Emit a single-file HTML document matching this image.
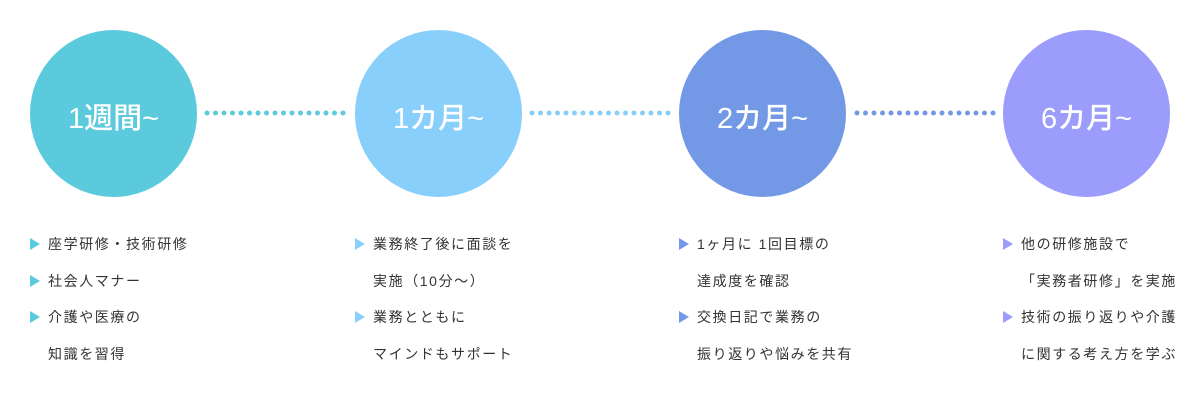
<!DOCTYPE html>
<html><head><meta charset="utf-8"><style>
body{margin:0;width:1200px;height:400px;background:#fff;overflow:hidden;position:relative;font-family:"Liberation Sans","Noto Sans CJK JP",sans-serif;}
.c{position:absolute;top:30px;width:167px;height:167px;border-radius:50%;color:#fff;font-size:29px;line-height:167px;text-align:center;font-weight:500;}
.c span{position:relative;top:6px}
.col{position:absolute;top:230px;font-size:14px;color:#333;}
.col div{height:36.5px;line-height:28px;padding-left:18px;position:relative;letter-spacing:1.6px;white-space:nowrap}
.col div.b:before{content:"";position:absolute;left:0;top:8px;border-left:10px solid var(--k);border-top:6px solid transparent;border-bottom:6px solid transparent;}
</style></head><body>
<svg width="1200" height="400" style="position:absolute;left:0;top:0"></svg>
<script>
var s=document.querySelector('svg');var cols=['#5bcadd','#88d0fb','#7399e6'];
for(var k=0;k<3;k++){for(var i=0;i<17;i++){var c=document.createElementNS('http://www.w3.org/2000/svg','circle');c.setAttribute('cx',207+k*325+i*8.5);c.setAttribute('cy',113);c.setAttribute('r',2.5);c.setAttribute('fill',cols[k]);s.appendChild(c);}}
</script>
<div class="c" style="left:30px;background:#5bcadd"><span>1週間~</span></div>
<div class="c" style="left:355px;background:#88d0fb"><span>1カ月~</span></div>
<div class="c" style="left:679px;background:#7399e6"><span>2カ月~</span></div>
<div class="c" style="left:1003px;background:#9b9cfb"><span>6カ月~</span></div>
<div class="col" style="left:30px;--k:#5bcadd"><div class="b">座学研修・技術研修</div><div class="b">社会人マナー</div><div class="b">介護や医療の</div><div>知識を習得</div></div>
<div class="col" style="left:355px;--k:#88d0fb"><div class="b">業務終了後に面談を</div><div>実施（10分～）</div><div class="b">業務とともに</div><div>マインドもサポート</div></div>
<div class="col" style="left:679px;--k:#7399e6"><div class="b">1ヶ月に 1回目標の</div><div>達成度を確認</div><div class="b">交換日記で業務の</div><div>振り返りや悩みを共有</div></div>
<div class="col" style="left:1003px;--k:#9b9cfb"><div class="b">他の研修施設で</div><div>「実務者研修」を実施</div><div class="b">技術の振り返りや介護</div><div>に関する考え方を学ぶ</div></div>
</body></html>
